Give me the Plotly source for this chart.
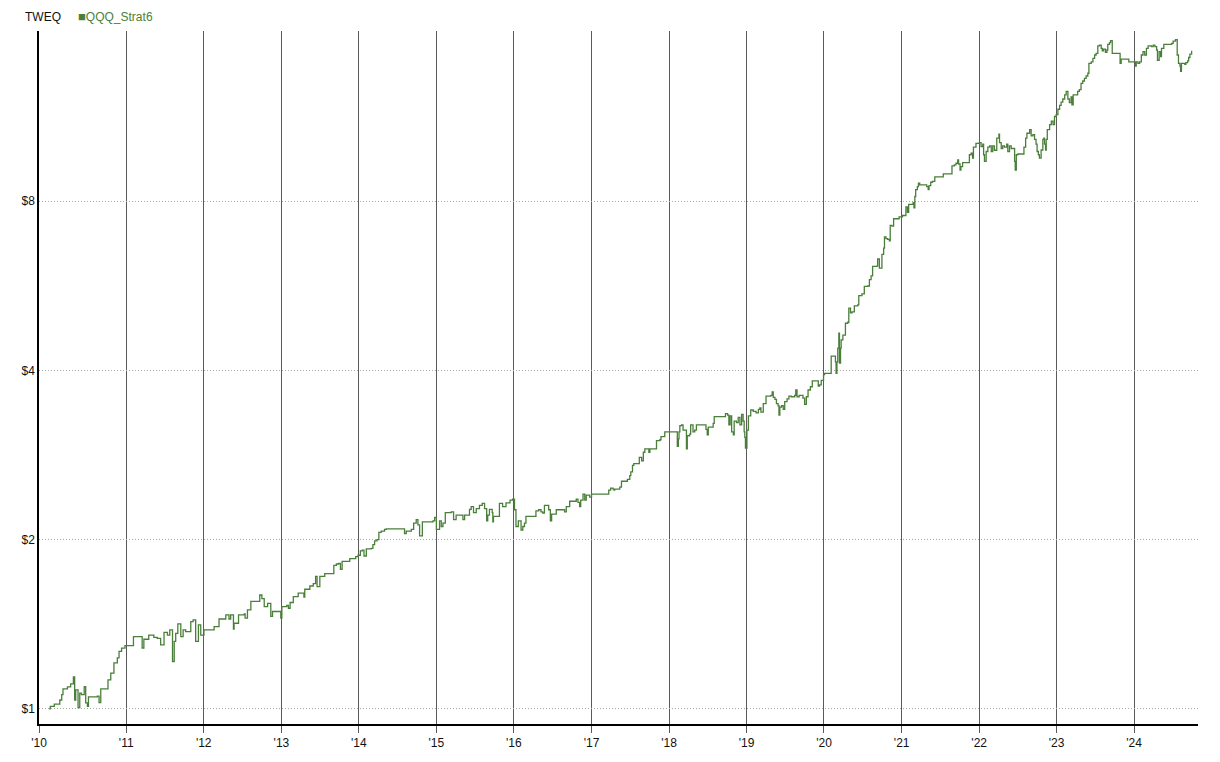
import plotly.graph_objects as go

# ---- data (equity curve, $ growth of $1) ----
dates_2010_2012 = [
    "2010-01-03", "2010-01-08", "2010-01-27", "2010-02-22", "2010-03-03", "2010-03-09", "2010-03-30",
    "2010-04-14", "2010-04-27", "2010-05-03", "2010-05-08", "2010-05-19", "2010-05-27", "2010-06-04",
    "2010-06-17", "2010-06-24", "2010-07-02", "2010-07-07", "2010-08-18", "2010-08-26", "2010-09-03",
    "2010-10-04", "2010-10-07", "2010-10-20", "2010-11-04", "2010-11-20", "2010-11-28", "2010-12-10",
    "2010-12-26", "2011-01-22", "2011-02-04", "2011-03-10", "2011-03-17", "2011-03-25", "2011-04-17",
    "2011-05-11", "2011-05-27", "2011-06-12", "2011-06-28", "2011-07-14", "2011-07-25", "2011-08-07",
    "2011-08-15", "2011-08-22", "2011-09-01", "2011-09-15", "2011-09-26", "2011-10-08", "2011-11-01",
    "2011-11-12", "2011-11-24", "2011-12-07", "2011-12-18", "2012-01-02", "2012-02-11", "2012-02-19",
    "2012-03-13", "2012-04-14", "2012-04-29", "2012-05-07", "2012-05-20", "2012-05-23", "2012-06-13",
    "2012-07-10", "2012-07-14", "2012-07-25", "2012-08-10", "2012-09-10", "2012-09-21", "2012-10-01",
    "2012-10-12", "2012-10-28", "2012-11-12", "2012-11-20", "2012-12-13", "2012-12-29", "2013-01-03",
]
values_2010_2012 = [
    1.00, 1.01, 1.02, 1.037, 1.06, 1.085, 1.094,
    1.108, 1.14, 1.037, 1.081, 1.005, 1.067, 1.06,
    1.095, 1.025, 1.01, 1.05, 1.054, 1.026, 1.085,
    1.085, 1.126, 1.158, 1.207, 1.232, 1.265, 1.282,
    1.296, 1.296, 1.344, 1.344, 1.283, 1.33, 1.353,
    1.34, 1.335, 1.30, 1.368, 1.353, 1.382, 1.214,
    1.318, 1.362, 1.416, 1.344, 1.382, 1.372, 1.43,
    1.44, 1.318, 1.41, 1.353, 1.382, 1.382, 1.40,
    1.445, 1.47, 1.445, 1.47, 1.386, 1.42, 1.47,
    1.475, 1.45, 1.50, 1.553, 1.553, 1.594, 1.57,
    1.52, 1.54, 1.46, 1.49, 1.49, 1.45, 1.52,
]

dates_2013_2015 = [
    "2013-01-26", "2013-02-03", "2013-02-11", "2013-02-26", "2013-03-21", "2013-04-14", "2013-04-17",
    "2013-04-21", "2013-05-15", "2013-05-31", "2013-06-11", "2013-06-18", "2013-07-01", "2013-07-24",
    "2013-08-29", "2013-09-05", "2013-09-17", "2013-09-28", "2013-10-06", "2013-10-14", "2013-11-11",
    "2013-11-19", "2013-12-17", "2013-12-28", "2014-01-08", "2014-01-17", "2014-01-25", "2014-02-05",
    "2014-02-28", "2014-03-08", "2014-03-16", "2014-03-27", "2014-04-05", "2014-04-16", "2014-05-02",
    "2014-05-10", "2014-07-27", "2014-08-04", "2014-08-12", "2014-09-05", "2014-09-16", "2014-09-28",
    "2014-10-06", "2014-10-14", "2014-10-27", "2014-12-08", "2014-12-16", "2014-12-24", "2015-01-01",
    "2015-01-08", "2015-01-16", "2015-01-24", "2015-02-01", "2015-02-12", "2015-03-12", "2015-03-23",
    "2015-04-04", "2015-04-28", "2015-05-06", "2015-05-14", "2015-06-06", "2015-06-14", "2015-06-25",
    "2015-07-08", "2015-07-23", "2015-08-05", "2015-08-16", "2015-08-26", "2015-08-31", "2015-09-08",
    "2015-09-21", "2015-09-24", "2015-09-27", "2015-10-17", "2015-10-25", "2015-11-09", "2015-11-25",
    "2015-12-08", "2015-12-14", "2015-12-26", "2016-01-04", "2016-01-11",
]
values_2013_2015 = [
    1.527, 1.51, 1.546, 1.584, 1.606, 1.606, 1.58,
    1.632, 1.654, 1.67, 1.72, 1.65, 1.72, 1.74,
    1.74, 1.80, 1.81, 1.815, 1.77, 1.83, 1.83,
    1.85, 1.866, 1.876, 1.91, 1.915, 1.87, 1.925,
    1.93, 1.96, 1.99, 2.0, 2.06, 2.07, 2.085,
    2.09, 2.09, 2.05, 2.07, 2.085, 2.14, 2.17,
    2.125, 2.03, 2.15, 2.15, 2.16, 2.19, 2.085,
    2.085, 2.16, 2.11, 2.14, 2.234, 2.24, 2.17,
    2.21, 2.21, 2.17, 2.21, 2.264, 2.29, 2.234,
    2.27, 2.30, 2.32, 2.27, 2.16, 2.21, 2.264,
    2.234, 2.15, 2.2, 2.2, 2.32, 2.29, 2.325,
    2.325, 2.35, 2.36, 2.26, 2.11,
]

dates_2016_2018 = [
    "2016-01-16", "2016-01-22", "2016-01-30", "2016-02-04", "2016-02-12", "2016-02-20", "2016-02-27",
    "2016-04-10", "2016-04-14", "2016-04-27", "2016-05-08", "2016-05-16", "2016-05-24", "2016-06-09",
    "2016-06-13", "2016-06-21", "2016-06-27", "2016-07-19", "2016-08-24", "2016-08-27", "2016-09-04",
    "2016-09-20", "2016-10-13", "2016-10-21", "2016-10-29", "2016-11-06", "2016-11-11", "2016-11-22",
    "2016-11-30", "2016-12-07", "2016-12-23", "2017-01-01", "2017-03-20", "2017-03-23", "2017-04-01",
    "2017-04-12", "2017-04-17", "2017-04-20", "2017-05-14", "2017-05-22", "2017-06-14", "2017-06-19",
    "2017-06-30", "2017-07-05", "2017-07-13", "2017-07-19", "2017-08-06", "2017-08-14", "2017-08-25",
    "2017-09-02", "2017-09-09", "2017-09-25", "2017-09-28", "2017-10-03", "2017-10-26", "2017-11-03",
    "2017-11-19", "2017-11-24", "2017-12-09", "2017-12-12", "2018-02-06", "2018-02-09", "2018-02-14",
    "2018-02-17", "2018-02-21", "2018-03-01", "2018-03-08", "2018-03-19", "2018-03-24", "2018-03-28",
    "2018-04-08", "2018-04-13", "2018-04-24", "2018-05-02", "2018-05-10", "2018-06-19", "2018-06-24",
    "2018-06-30", "2018-07-05", "2018-07-28", "2018-08-02", "2018-09-18", "2018-09-24", "2018-10-04",
    "2018-10-10", "2018-10-16", "2018-10-23", "2018-10-31", "2018-11-04", "2018-11-15", "2018-11-23",
    "2018-12-01", "2018-12-09", "2018-12-16", "2018-12-21", "2018-12-24", "2018-12-27", "2019-01-03",
    "2019-01-10", "2019-01-21", "2019-02-02",
]
values_2016_2018 = [
    2.11, 2.16, 2.16, 2.08, 2.11, 2.14, 2.20,
    2.20, 2.25, 2.26, 2.24, 2.23, 2.30, 2.30,
    2.26, 2.16, 2.22, 2.26, 2.26, 2.24, 2.29,
    2.34, 2.34, 2.36, 2.33, 2.29, 2.35, 2.41,
    2.35, 2.40, 2.38, 2.41, 2.41, 2.45, 2.47,
    2.46, 2.45, 2.46, 2.48, 2.54, 2.54, 2.56,
    2.60, 2.64, 2.71, 2.73, 2.73, 2.80, 2.76,
    2.86, 2.90, 2.90, 2.86, 2.90, 2.90, 3.00,
    3.01, 3.05, 3.05, 3.11, 3.11, 2.93, 3.02,
    3.11, 3.19, 3.20, 3.13, 3.13, 2.90, 3.06,
    3.08, 3.20, 3.11, 3.13, 3.20, 3.20, 3.14,
    3.07, 3.17, 3.22, 3.31, 3.31, 3.35, 3.33,
    3.20, 3.32, 3.11, 3.07, 3.25, 3.23, 3.30,
    3.20, 3.34, 3.25, 3.11, 3.04, 2.91, 3.13,
    3.32, 3.40, 3.38,
]

dates_2019_2020 = [
    "2019-02-15", "2019-02-26", "2019-03-05", "2019-03-10", "2019-03-21", "2019-04-03", "2019-04-26",
    "2019-05-02", "2019-05-07", "2019-05-15", "2019-05-22", "2019-05-30", "2019-06-03", "2019-06-07",
    "2019-06-15", "2019-06-23", "2019-06-30", "2019-07-11", "2019-07-20", "2019-07-31", "2019-08-16",
    "2019-08-21", "2019-08-27", "2019-09-06", "2019-09-24", "2019-10-02", "2019-10-10", "2019-10-18",
    "2019-10-29", "2019-11-07", "2019-11-29", "2019-12-05", "2019-12-11", "2019-12-19", "2019-12-30",
    "2020-01-04", "2020-01-24", "2020-02-04", "2020-02-20", "2020-02-24", "2020-02-27", "2020-03-02",
    "2020-03-06", "2020-03-11", "2020-03-14", "2020-03-19", "2020-03-22", "2020-03-30", "2020-04-11",
    "2020-04-22", "2020-04-27", "2020-05-05", "2020-05-12", "2020-05-23", "2020-06-08", "2020-06-13",
    "2020-06-28", "2020-07-09", "2020-07-25", "2020-08-02", "2020-08-10", "2020-08-17", "2020-09-05",
    "2020-09-10", "2020-09-18", "2020-09-30", "2020-10-08", "2020-10-12", "2020-10-19", "2020-10-27",
    "2020-11-04", "2020-11-08", "2020-11-16", "2020-11-24", "2020-12-20", "2021-01-05", "2021-01-13",
]
values_2019_2020 = [
    3.36, 3.41, 3.43, 3.37, 3.49, 3.60, 3.61,
    3.66, 3.58, 3.55, 3.49, 3.46, 3.33, 3.44,
    3.46, 3.41, 3.52, 3.56, 3.60, 3.59, 3.61,
    3.69, 3.59, 3.61, 3.57, 3.48, 3.59, 3.69,
    3.74, 3.83, 3.83, 3.75, 3.77, 3.84, 3.93,
    3.95, 3.95, 4.24, 4.24, 4.14, 3.95, 4.14,
    4.38, 4.66, 4.12, 4.38, 4.53, 4.62, 4.85,
    4.87, 5.16, 5.06, 5.08, 5.21, 5.23, 5.43,
    5.47, 5.64, 5.65, 5.80, 5.89, 6.12, 6.13,
    6.31, 6.08, 6.43, 6.60, 6.91, 6.86, 6.84,
    6.80, 7.24, 7.22, 7.44, 7.50, 7.54, 7.54,
]

dates_2021_2024 = [
    "2021-01-21", "2021-01-28", "2021-02-03", "2021-02-21", "2021-02-24", "2021-02-28", "2021-03-04",
    "2021-03-08", "2021-03-16", "2021-03-21", "2021-03-27", "2021-04-25", "2021-04-29", "2021-05-06",
    "2021-05-10", "2021-05-18", "2021-05-26", "2021-06-06", "2021-07-12", "2021-07-16", "2021-08-21",
    "2021-08-26", "2021-09-06", "2021-09-14", "2021-09-22", "2021-09-26", "2021-10-03", "2021-10-07",
    "2021-10-15", "2021-11-08", "2021-11-16", "2021-11-24", "2021-12-01", "2021-12-05", "2021-12-17",
    "2022-01-02", "2022-01-10", "2022-01-18", "2022-01-22", "2022-01-26", "2022-02-03", "2022-02-11",
    "2022-02-19", "2022-02-27", "2022-03-06", "2022-03-14", "2022-03-25", "2022-04-04", "2022-04-07",
    "2022-04-15", "2022-04-22", "2022-04-30", "2022-05-11", "2022-05-16", "2022-05-24", "2022-06-01",
    "2022-06-13", "2022-06-17", "2022-06-20", "2022-06-25", "2022-07-02", "2022-07-26", "2022-07-31",
    "2022-08-08", "2022-08-14", "2022-08-27", "2022-09-03", "2022-09-11", "2022-09-19", "2022-09-26",
    "2022-10-01", "2022-10-07", "2022-10-12", "2022-10-20", "2022-10-28", "2022-11-02", "2022-11-05",
    "2022-11-10", "2022-11-13", "2022-11-18", "2022-11-29", "2022-12-07", "2022-12-15", "2022-12-22",
    "2022-12-30", "2023-01-07", "2023-01-15", "2023-01-22", "2023-01-30", "2023-02-08", "2023-02-15",
    "2023-02-23", "2023-03-02", "2023-03-10", "2023-03-14", "2023-03-20", "2023-03-30", "2023-04-10",
    "2023-04-18", "2023-04-26", "2023-05-04", "2023-05-12", "2023-05-20", "2023-05-28", "2023-06-02",
    "2023-06-13", "2023-06-21", "2023-06-29", "2023-07-06", "2023-07-14", "2023-07-22", "2023-07-30",
    "2023-08-04", "2023-08-10", "2023-08-19", "2023-08-26", "2023-08-30", "2023-09-07", "2023-09-12",
    "2023-09-20", "2023-10-24", "2023-10-27", "2023-11-01", "2023-12-02", "2023-12-07", "2024-01-03",
    "2024-01-07", "2024-01-11", "2024-01-19", "2024-01-27", "2024-02-04", "2024-02-12", "2024-02-20",
    "2024-02-28", "2024-03-07", "2024-03-23", "2024-03-31", "2024-04-08", "2024-04-16", "2024-04-20",
    "2024-04-28", "2024-05-05", "2024-05-09", "2024-05-20", "2024-06-26", "2024-07-03", "2024-07-14",
    "2024-07-19", "2024-07-22", "2024-07-28", "2024-08-04", "2024-08-07", "2024-08-11", "2024-08-27",
    "2024-09-01", "2024-09-09", "2024-09-14", "2024-09-20", "2024-09-28",
]
values_2021_2024 = [
    7.81, 7.64, 7.89, 7.89, 7.95, 7.78, 8.15,
    8.38, 8.49, 8.61, 8.55, 8.55, 8.49, 8.38,
    8.52, 8.64, 8.67, 8.83, 8.83, 8.94, 8.94,
    9.24, 9.28, 9.34, 9.47, 9.31, 9.08, 9.21,
    9.36, 9.36, 9.67, 9.73, 9.54, 9.98, 10.13,
    10.16, 10.0, 10.1, 9.67, 9.41, 9.80, 9.98,
    10.03, 9.80, 10.03, 9.85, 10.35, 10.52, 10.16,
    9.92, 10.03, 9.98, 10.1, 9.80, 10.03, 9.92,
    9.92, 9.41, 9.08, 9.67, 9.70, 9.70, 9.98,
    10.35, 10.56, 10.72, 10.45, 10.5, 10.3, 10.1,
    9.80, 9.67, 9.54, 9.86, 10.3, 10.35, 10.1,
    9.86, 10.3, 10.72, 10.94, 11.1, 10.94, 11.31,
    11.4, 11.65, 11.84, 12.0, 12.15, 12.36, 12.54,
    12.15, 11.97, 12.25, 11.86, 12.36, 12.36, 12.54,
    12.63, 12.95, 13.08, 13.22, 13.35, 13.50, 14.06,
    14.15, 14.35, 14.55, 14.65, 15.1, 15.15, 14.95,
    14.8, 14.9, 14.7, 14.85, 15.2, 15.3, 15.43,
    14.65, 14.65, 14.06, 14.3, 14.3, 14.15, 14.15,
    13.9, 14.15, 14.06, 14.15, 14.55, 14.75, 14.55,
    14.95, 15.1, 15.05, 15.15, 15.05, 14.85, 14.24,
    14.75, 14.45, 14.95, 15.2, 15.26, 15.4, 15.5,
    15.5, 14.55, 14.06, 13.9, 13.6, 14.06, 14.0,
    14.1, 14.2, 14.4, 14.6, 14.8,
]

series_name = "QQQ_Strat6"
chart_title = "TWEQ"

x_tick_dates = ["2009-11-16", "2011-01-01", "2012-01-01", "2013-01-01", "2014-01-01", "2015-01-01",
                "2016-01-01", "2017-01-01", "2018-01-01", "2019-01-01", "2020-01-01", "2021-01-01",
                "2022-01-01", "2023-01-01", "2024-01-01"]
x_tick_labels = ["'10", "'11", "'12", "'13", "'14", "'15", "'16", "'17", "'18", "'19", "'20",
                 "'21", "'22", "'23", "'24"]
y_tick_values = [1, 2, 4, 8]
y_tick_labels = ["$1", "$2", "$4", "$8"]

dates = dates_2010_2012 + dates_2013_2015 + dates_2016_2018 + dates_2019_2020 + dates_2021_2024
values = values_2010_2012 + values_2013_2015 + values_2016_2018 + values_2019_2020 + values_2021_2024

GREEN = "#4a7f3a"
FONT = "Arial, 'Liberation Sans', sans-serif"

fig = go.Figure()
fig.add_trace(go.Scatter(
    x=dates, y=values, mode="lines", name=series_name,
    line=dict(color=GREEN, width=1.3, shape="hv"),
    showlegend=False,
))

# page body has an 8px margin: the figure is sized so it fits the 1220x762 window exactly
fig.update_layout(
    width=1204, height=746,
    margin=dict(l=31, r=14, t=23, b=30, autoexpand=False),
    paper_bgcolor="white", plot_bgcolor="white",
    font=dict(family=FONT, size=12, color="#111111"),
    showlegend=False,
    annotations=[
        dict(text=chart_title, xref="paper", yref="paper", x=0, y=1.0,
             xanchor="left", yanchor="bottom", xshift=-16, yshift=5, showarrow=False,
             font=dict(family=FONT, size=12, color="#111111")),
        dict(text="<span style='font-size:13px'>■</span>" + series_name, xref="paper", yref="paper",
             x=0, y=1.0, xanchor="left", yanchor="bottom", xshift=37, yshift=5, showarrow=False,
             font=dict(family=FONT, size=12, color=GREEN)),
    ],
)

fig.update_xaxes(
    type="date",
    range=["2009-11-16", "2024-10-28"],
    tickmode="array", tickvals=x_tick_dates, ticktext=x_tick_labels,
    showgrid=True, gridcolor="#5a5a5a", gridwidth=1,
    ticks="outside", ticklen=7, tickcolor="#5a5a5a", tickwidth=1,
    showline=True, linecolor="#000000", linewidth=1.5,
    zeroline=False, automargin=False,
    tickfont=dict(family=FONT, size=12, color="#111111"),
)

fig.update_yaxes(
    type="log",
    range=[-0.0269, 1.2055],
    tickmode="array", tickvals=y_tick_values, ticktext=y_tick_labels,
    showgrid=True, gridcolor="#a8a8a8", gridwidth=1, griddash="1px,2px",
    ticks="", showline=True, linecolor="#000000", linewidth=1.5,
    zeroline=False, automargin=False,
    tickfont=dict(family=FONT, size=12, color="#111111"),
)

fig.write_html("out.html")
